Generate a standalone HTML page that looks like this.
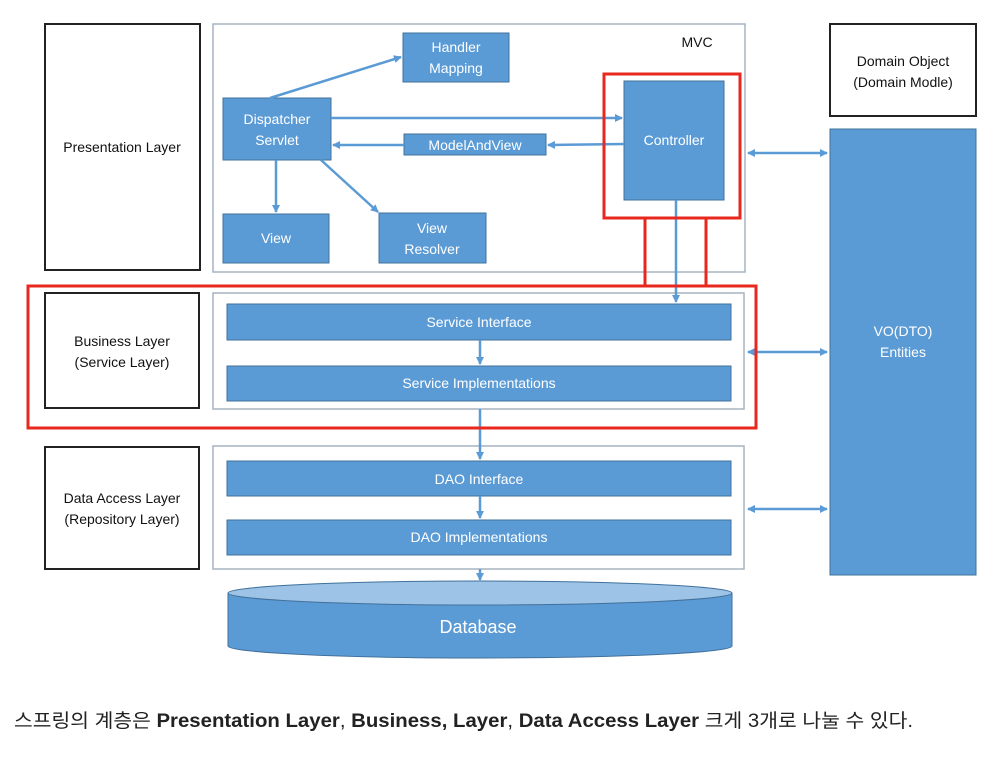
<!DOCTYPE html>
<html><head><meta charset="utf-8"><style>
body{margin:0;background:#fff;width:1005px;height:756px;overflow:hidden}
svg text{font-family:"Liberation Sans","Noto Sans CJK KR",sans-serif}
</style></head><body>
<svg width="1005" height="756" viewBox="0 0 1005 756" xmlns="http://www.w3.org/2000/svg">
<defs>
<marker id="a" markerWidth="8" markerHeight="8" refX="7" refY="4" orient="auto" markerUnits="userSpaceOnUse"><path d="M0,0 L8,4 L0,8 z" fill="#5b9bd5"/></marker>
<marker id="s" markerWidth="8" markerHeight="8" refX="1" refY="4" orient="auto" markerUnits="userSpaceOnUse"><path d="M8,0 L0,4 L8,8 z" fill="#5b9bd5"/></marker>
</defs>
<g fill="#fff" stroke="#222" stroke-width="2">
<rect x="45" y="24" width="155" height="246"/>
<rect x="45" y="293" width="154" height="115"/>
<rect x="45" y="447" width="154" height="122"/>
<rect x="830" y="24" width="146" height="92"/>
</g>
<g fill="#fff" stroke="#a6b4c0" stroke-width="1.5">
<rect x="213" y="24" width="532" height="248"/>
<rect x="213" y="293" width="531" height="116"/>
<rect x="213" y="446" width="531" height="123"/>
</g>
<g fill="#5b9bd5" stroke="#41719c" stroke-width="1">
<rect x="403" y="33" width="106" height="49"/>
<rect x="223" y="98" width="108" height="62"/>
<rect x="404" y="134" width="142" height="21"/>
<rect x="624" y="81" width="100" height="119"/>
<rect x="223" y="214" width="106" height="49"/>
<rect x="379" y="213" width="107" height="50"/>
<rect x="227" y="304" width="504" height="36"/>
<rect x="227" y="366" width="504" height="35"/>
<rect x="227" y="461" width="504" height="35"/>
<rect x="227" y="520" width="504" height="35"/>
<rect x="830" y="129" width="146" height="446"/>
<path d="M228,593 L228,646 A252,12 0 0 0 732,646 L732,593 Z"/>
</g>
<ellipse cx="480" cy="593" rx="252" ry="12" fill="#9dc3e6" stroke="#41719c"/>
<g stroke="#5b9bd5" stroke-width="2.5" fill="none">
<line x1="270" y1="98" x2="401" y2="57" marker-end="url(#a)"/>
<line x1="331" y1="118" x2="622" y2="118" marker-end="url(#a)"/>
<line x1="624" y1="144" x2="548" y2="145" marker-end="url(#a)"/>
<line x1="404" y1="145" x2="333" y2="145" marker-end="url(#a)"/>
<line x1="276" y1="160" x2="276" y2="212" marker-end="url(#a)"/>
<line x1="321" y1="160" x2="378" y2="212" marker-end="url(#a)"/>
<line x1="676" y1="200" x2="676" y2="302" marker-end="url(#a)"/>
<line x1="480" y1="340" x2="480" y2="364" marker-end="url(#a)"/>
<line x1="480" y1="409" x2="480" y2="459" marker-end="url(#a)"/>
<line x1="480" y1="496" x2="480" y2="518" marker-end="url(#a)"/>
<line x1="480" y1="569" x2="480" y2="580" marker-end="url(#a)"/>
<line x1="748" y1="153" x2="827" y2="153" marker-start="url(#s)" marker-end="url(#a)"/>
<line x1="748" y1="352" x2="827" y2="352" marker-start="url(#s)" marker-end="url(#a)"/>
<line x1="748" y1="509" x2="827" y2="509" marker-start="url(#s)" marker-end="url(#a)"/>
</g>
<g stroke="#e8281e" stroke-width="3" fill="none">
<rect x="604" y="74" width="136" height="144"/>
<line x1="645" y1="218" x2="645" y2="285"/>
<line x1="706" y1="218" x2="706" y2="285"/>
<rect x="28" y="286" width="728" height="142"/>
</g>
<g font-size="14" fill="#111" text-anchor="middle">
<text x="122" y="152">Presentation Layer</text>
<text x="122" y="346">Business Layer</text>
<text x="122" y="367">(Service Layer)</text>
<text x="122" y="503">Data Access Layer</text>
<text x="122" y="524">(Repository Layer)</text>
<text x="903" y="66">Domain Object</text>
<text x="903" y="87">(Domain Modle)</text>
<text x="697" y="47">MVC</text>
</g>
<g font-size="14" fill="#fff" text-anchor="middle">
<text x="456" y="52">Handler</text>
<text x="456" y="73">Mapping</text>
<text x="277" y="124">Dispatcher</text>
<text x="277" y="145">Servlet</text>
<text x="475" y="150">ModelAndView</text>
<text x="674" y="145">Controller</text>
<text x="276" y="243">View</text>
<text x="432" y="233">View</text>
<text x="432" y="254">Resolver</text>
<text x="479" y="327">Service Interface</text>
<text x="479" y="388">Service Implementations</text>
<text x="479" y="484">DAO Interface</text>
<text x="479" y="542">DAO Implementations</text>
<text x="903" y="336">VO(DTO)</text>
<text x="903" y="357">Entities</text>
<text x="478" y="633" font-size="18">Database</text>
</g>
<text x="14" y="727" font-size="19" fill="#222" textLength="899" lengthAdjust="spacingAndGlyphs">스프링의 계층은 <tspan font-weight="bold">Presentation Layer</tspan>, <tspan font-weight="bold">Business, Layer</tspan>, <tspan font-weight="bold">Data Access Layer</tspan> 크게 3개로 나눌 수 있다.</text>
</svg>
</body></html>
